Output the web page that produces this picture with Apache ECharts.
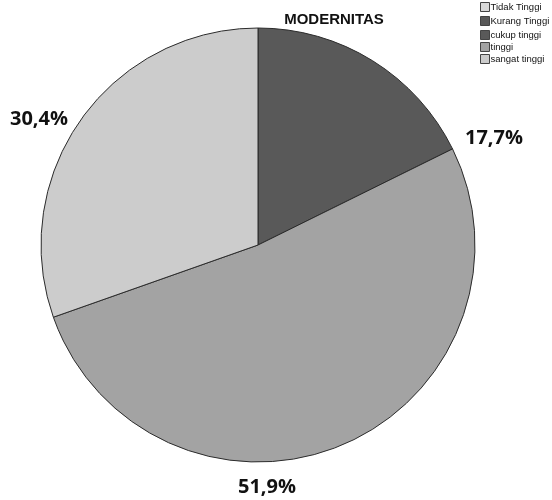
<!DOCTYPE html>
<html>
<head>
<meta charset="utf-8">
<script src="https://cdn.jsdelivr.net/npm/echarts@6/dist/echarts.min.js"></script>
<style>
html,body{margin:0;padding:0;background:#fff;}
#chart{width:552px;height:500px;}
</style>
</head>
<body>
<div id="chart"></div>
<script>
// Category names and their shares (percent)
const categories = ['Tidak Tinggi', 'Kurang Tinggi', 'cukup tinggi', 'tinggi', 'sangat tinggi'];
const shares = [0, 0, 17.7, 51.9, 30.4];
const colors = ['#d9d9d9', '#595959', '#595959', '#a3a3a3', '#cccccc'];
const labelTexts = ['', '', '17,7%', '51,9%', '30,4%'];

const chart = echarts.init(document.getElementById('chart'));

// Where each visible percentage label sits, by category
const labelSpots = {
  'cukup tinggi': [494, 138],
  'tinggi': [267, 487],
  'sangat tinggi': [39, 119]
};

const pieData = categories.map((name, i) => ({
  name: name,
  value: shares[i],
  itemStyle: { color: colors[i] },
  label: { show: shares[i] > 0, formatter: labelTexts[i] }
}));

const legendItem = (name) => ({ name: name, icon: 'rect' });
const legendText = {
  fontFamily: 'Liberation Sans, Arial', fontSize: 9.5, lineHeight: 12, color: '#111',
  padding: [0, 0, 0, -4], overflow: 'none', width: 80
};
const legendBase = {
  orient: 'vertical', left: 480,
  itemWidth: 9, itemHeight: 9,
  itemStyle: { borderColor: '#444', borderWidth: 1 },
  textStyle: legendText,
  selectedMode: false, padding: 0
};

chart.setOption({
  animation: false,
  title: {
    text: 'MODERNITAS',
    left: 329, top: 7, textAlign: 'center',
    textStyle: { fontFamily: 'Liberation Sans, Arial', fontWeight: 'bold', fontSize: 15, color: '#111' }
  },
  legend: [
    Object.assign({}, legendBase, {
      data: categories.slice(0, 2).map(legendItem), top: 1, itemGap: 2
    }),
    Object.assign({}, legendBase, {
      data: categories.slice(2).map(legendItem), top: 29, itemGap: 0
    })
  ],
  series: [{
    type: 'pie',
    center: [258, 245],
    radius: [0, 217],
    startAngle: 90,
    clockwise: true,
    stillShowZeroSum: false,
    data: pieData,
    itemStyle: { borderColor: '#2b2b2b', borderWidth: 1 },
    label: {
      position: 'outside',
      fontFamily: 'Open Sans, Liberation Sans',
      fontWeight: 'bold', fontSize: 20, color: '#111',
      overflow: 'none', width: 100
    },
    labelLine: { show: false },
    labelLayout: function (p) {
      const name = categories[p.dataIndex];
      const spot = labelSpots[name];
      if (!spot) return {};
      return { x: spot[0], y: spot[1], align: 'center', verticalAlign: 'middle', width: 100 };
    },
    emphasis: { disabled: true }
  }]
});
</script>
</body>
</html>
